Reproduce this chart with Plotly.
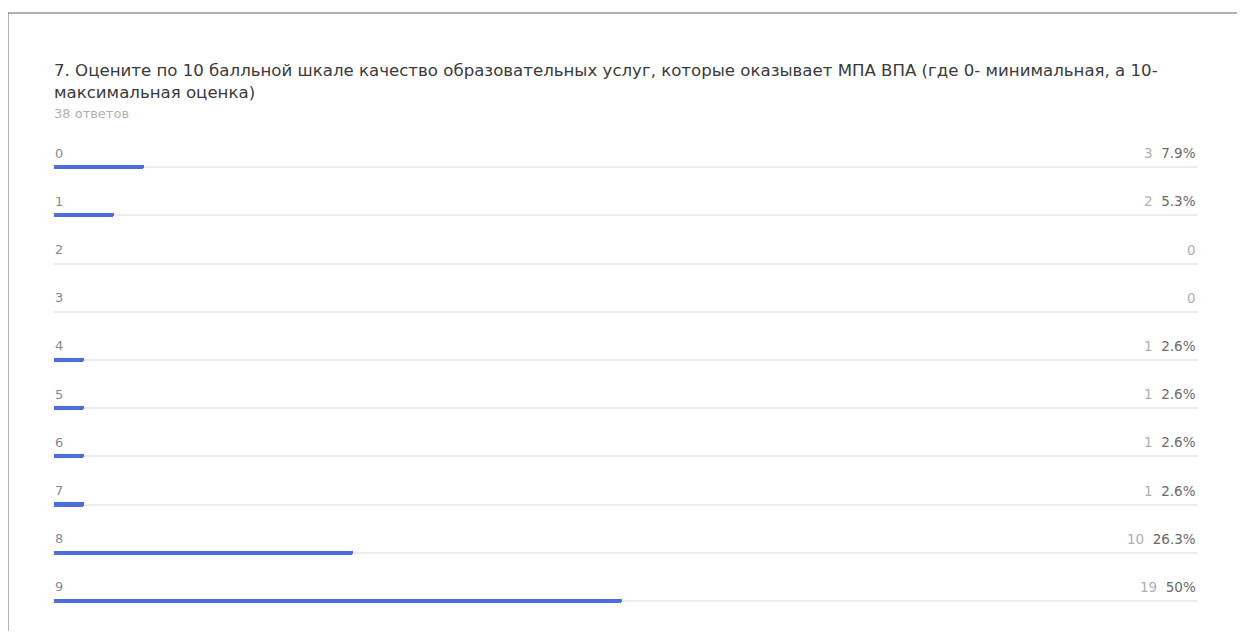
import plotly.graph_objects as go

categories = ["0", "1", "2", "3", "4", "5", "6", "7", "8", "9"]
counts = [3, 2, 0, 0, 1, 1, 1, 1, 10, 19]
total = 38
title_line1 = "7. Оцените по 10 балльной шкале качество образовательных услуг, которые оказывает МПА ВПА (где 0- минимальная, а 10-"
title_line2 = "максимальная оценка)"
subtitle = "38 ответов"

percents = [round(c / total * 100, 1) for c in counts]

OFF = 8  # browser body margin
W, H = 1245 - 2 * OFF, 639 - 2 * OFF
ML = 54 - OFF
MR = W - (1198 - OFF)
MT = 143 - OFF
MB = H - (625 - OFF)
PW = W - ML - MR
PH = H - MT - MB

def px_x(px):
    return (px - OFF - ML) / PW

def px_y(py):
    return 1 - (py - OFF - MT) / PH

BLUE = "#4d6ddb"
FONT = "DejaVu Sans"

fig = go.Figure()
fig.add_trace(go.Bar(
    x=percents, y=categories, orientation="h", width=0.085,
    marker=dict(color=BLUE, line=dict(width=0), cornerradius=2),
    hoverinfo="skip", showlegend=False,
))

annotations = []
for cat, c, p in zip(categories, counts, percents):
    annotations.append(dict(
        x=0, y=cat, xref="x", yref="y", text=cat, showarrow=False,
        xanchor="left", yanchor="middle", yshift=14, xshift=-1,
        font=dict(family=FONT, size=13, color="#8a8a8a"),
    ))
    if c == 0:
        txt = "<span style='color:#b0b0b0'>0</span>"
    else:
        txt = f"<span style='color:#b0b0b0'>{c}</span>&nbsp;&nbsp;<span style='color:#6a6a6a'>{p:g}%</span>"
    annotations.append(dict(
        x=1, y=cat, xref="paper", yref="y", text=txt, showarrow=False,
        xanchor="right", yanchor="middle", yshift=14,
        font=dict(family=FONT, size=13.5),
    ))

annotations += [
    dict(x=px_x(52), y=px_y(70), xref="paper", yref="paper", text=title_line1,
         showarrow=False, xanchor="left", yanchor="middle",
         font=dict(family=FONT, size=16.6, color="#3a3a3a")),
    dict(x=px_x(52), y=px_y(93), xref="paper", yref="paper", text=title_line2,
         showarrow=False, xanchor="left", yanchor="middle",
         font=dict(family=FONT, size=16.6, color="#3a3a3a")),
    dict(x=px_x(52), y=px_y(113), xref="paper", yref="paper", text=subtitle,
         showarrow=False, xanchor="left", yanchor="middle",
         font=dict(family=FONT, size=13, color="#b0b0b0")),
]

shapes = [
    dict(type="line", xref="paper", yref="paper", x0=px_x(8), x1=px_x(1240),
         y0=px_y(13), y1=px_y(13), line=dict(color="#666666", width=1)),
    dict(type="line", xref="paper", yref="paper", x0=px_x(8), x1=px_x(8),
         y0=px_y(13), y1=px_y(660), line=dict(color="#666666", width=1)),
    dict(type="line", xref="paper", yref="paper", x0=px_x(1238), x1=px_x(1238),
         y0=px_y(13), y1=px_y(660), line=dict(color="#e2e2e2", width=1)),
]

fig.update_layout(
    width=W, height=H,
    margin=dict(l=ML, r=MR, t=MT, b=MB),
    paper_bgcolor="white", plot_bgcolor="white",
    xaxis=dict(range=[0, 100.7], showgrid=False, zeroline=False,
               showticklabels=False, fixedrange=True),
    yaxis=dict(categoryorder="array", categoryarray=categories,
               autorange="reversed", showticklabels=False,
               showgrid=True, gridcolor="#ececec", gridwidth=2,
               zeroline=False, fixedrange=True),
    annotations=annotations,
    shapes=shapes,
    bargap=0,
)

fig.write_html("out.html")
